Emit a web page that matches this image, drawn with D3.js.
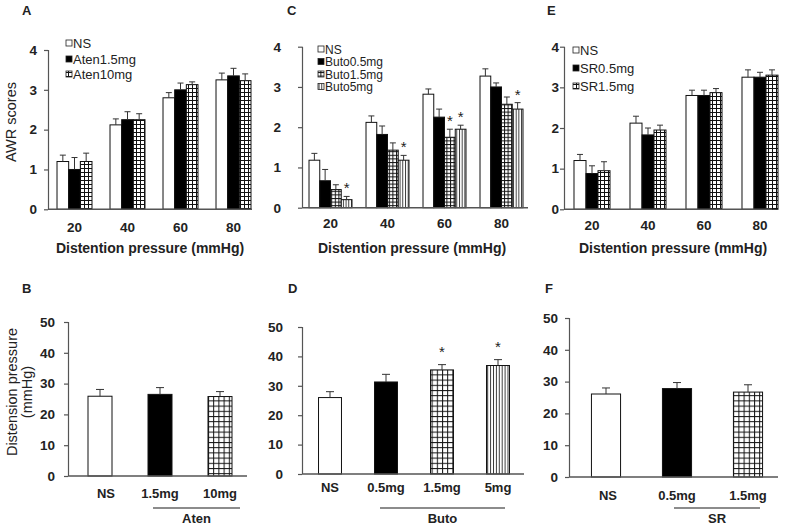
<!DOCTYPE html>
<html>
<head>
<meta charset="utf-8">
<script src="https://cdn.jsdelivr.net/npm/d3@7"></script>
<style>
  html, body { margin: 0; padding: 0; background: #fff; }
  svg { display: block; font-family: "Liberation Sans", Arial, sans-serif; }
</style>
</head>
<body>
<svg id="chart" width="787" height="528"></svg>
<script>
// ---------- DATA ----------
const pressureCats = ["20", "40", "60", "80"];
const awrTicks = [0, 1, 2, 3, 4];
const pressTicks = [0, 10, 20, 30, 40, 50];

// Panel A
const aSeries = ["NS", "Aten1.5mg", "Aten10mg"];
const aNS = [1.2, 2.12, 2.8, 3.25];
const aNSErr = [0.16, 0.15, 0.13, 0.17];
const aAten15 = [1.0, 2.25, 3.0, 3.35];
const aAten15Err = [0.3, 0.2, 0.17, 0.19];
const aAten10 = [1.2, 2.25, 3.13, 3.23];
const aAten10Err = [0.21, 0.15, 0.07, 0.17];

// Panel C
const cSeries = ["NS", "Buto0.5mg", "Buto1.5mg", "Buto5mg"];
const cNS = [1.18, 2.12, 2.82, 3.27];
const cNSErr = [0.17, 0.16, 0.13, 0.18];
const cButo05 = [0.67, 1.82, 2.25, 3.0];
const cButo05Err = [0.28, 0.21, 0.2, 0.1];
const cButo15 = [0.45, 1.43, 1.75, 2.57];
const cButo15Err = [0.12, 0.18, 0.2, 0.18];
const cButo5 = [0.2, 1.18, 1.95, 2.45];
const cButo5Err = [0.08, 0.12, 0.1, 0.16];
const cButo15Star = [false, false, true, false];
const cButo5Star = [true, true, true, true];

// Panel E
const eSeries = ["NS", "SR0.5mg", "SR1.5mg"];
const eNS = [1.2, 2.12, 2.8, 3.25];
const eNSErr = [0.15, 0.17, 0.13, 0.18];
const eSR05 = [0.88, 1.83, 2.8, 3.25];
const eSR05Err = [0.19, 0.17, 0.13, 0.12];
const eSR15 = [0.95, 1.95, 2.87, 3.3];
const eSR15Err = [0.22, 0.12, 0.1, 0.13];

// Panel B
const bCats = ["NS", "1.5mg", "10mg"];
const bVals = [25.9, 26.5, 25.8];
const bErr = [2.2, 2.2, 1.6];
// Panel D
const dCats = ["NS", "0.5mg", "1.5mg", "5mg"];
const dVals = [26.0, 31.3, 35.4, 36.9];
const dErr = [2.0, 2.6, 1.8, 2.0];
const dStar = [false, false, true, true];
// Panel F
const fCats = ["NS", "0.5mg", "1.5mg"];
const fVals = [26.1, 27.8, 26.7];
const fErr = [1.9, 1.9, 2.3];

// ---------- DRAWING ----------
const svg = d3.select("#chart");
const defs = svg.append("defs");

function gridPattern(id, w, h) {
  const p = defs.append("pattern").attr("id", id)
    .attr("patternUnits", "userSpaceOnUse").attr("width", w).attr("height", h);
  p.append("rect").attr("width", w).attr("height", h).attr("fill", "#fff");
  p.append("line").attr("x1", 0.5).attr("x2", 0.5).attr("y1", 0).attr("y2", h)
    .attr("stroke", "#111").attr("stroke-width", 1);
  p.append("line").attr("x1", 0).attr("x2", w).attr("y1", 0.5).attr("y2", 0.5)
    .attr("stroke", "#111").attr("stroke-width", 1);
}
function vlinePattern(id, w) {
  const p = defs.append("pattern").attr("id", id)
    .attr("patternUnits", "userSpaceOnUse").attr("width", w).attr("height", 4);
  p.append("rect").attr("width", w).attr("height", 4).attr("fill", "#fff");
  p.append("line").attr("x1", 0.5).attr("x2", 0.5).attr("y1", 0).attr("y2", 4)
    .attr("stroke", "#222").attr("stroke-width", 0.9);
}
gridPattern("grid4", 4, 4);
gridPattern("gridH", 3.6, 3.6);
gridPattern("grid5", 5.2, 5.2);
vlinePattern("vl3", 2.7);
vlinePattern("vl3b", 2.9);

const AXIS = "#555";

function yAxis(g, y, x0, ticks, pad) {
  const ax = g.append("g").attr("transform", `translate(${x0},0)`)
    .call(d3.axisLeft(y).tickValues(ticks).tickSize(4).tickPadding(pad).tickFormat(d3.format("d")));
  ax.select(".domain").remove();
  ax.append("line").attr("x1", 0.5).attr("x2", 0.5)
    .attr("y1", y(ticks[0])).attr("y2", y(ticks[ticks.length - 1]))
    .attr("stroke", AXIS).attr("stroke-width", 1.2);
  ax.selectAll(".tick line").attr("stroke", AXIS).attr("stroke-width", 1.2);
  ax.selectAll(".tick text").attr("font-size", 13.5).attr("font-weight", "bold")
    .attr("fill", "#222").attr("font-family", "Liberation Sans, Arial, sans-serif");
}
function xLine(g, y0, xa, xb) {
  g.append("line").attr("x1", xa).attr("x2", xb).attr("y1", y0).attr("y2", y0)
    .attr("stroke", AXIS).attr("stroke-width", 1.5);
}
function errBar(g, cx, yTop, yBase, cap) {
  g.append("line").attr("x1", cx).attr("x2", cx).attr("y1", yTop).attr("y2", yBase)
    .attr("stroke", "#333").attr("stroke-width", 1);
  g.append("line").attr("x1", cx - cap / 2).attr("x2", cx + cap / 2).attr("y1", yTop).attr("y2", yTop)
    .attr("stroke", "#333").attr("stroke-width", 1);
}
function text(g, x, y, s, opts) {
  const t = g.append("text").attr("x", x).attr("y", y).text(s)
    .attr("font-size", opts.size || 13).attr("fill", opts.fill || "#222")
    .attr("text-anchor", opts.anchor || "start")
    .attr("font-weight", opts.weight || "normal");
  if (opts.rotate) t.attr("transform", `rotate(-90,${x},${y})`);
  return t;
}

// grouped (top) panel
function grouped(cfg) {
  const g = svg.append("g");
  const x = d3.scaleBand().domain(pressureCats).range(cfg.xr)
    .paddingInner(cfg.pad).paddingOuter(cfg.pad / 2);
  const xs = d3.scaleBand().domain(cfg.series).range([0, x.bandwidth()]);
  const y = d3.scaleLinear().domain([0, 4]).range(cfg.yr);
  const yBase = y(0);
  cfg.series.forEach((s, si) => {
    const vals = cfg.values[si], errs = cfg.errors[si], stars = cfg.stars ? cfg.stars[si] : null;
    pressureCats.forEach((c, ci) => {
      const bx = x(c) + xs(s);
      const yt = y(vals[ci]);
      g.append("rect").attr("x", bx).attr("y", yt).attr("width", xs.bandwidth())
        .attr("height", yBase - yt).attr("fill", cfg.fills[si])
        .attr("stroke", "#111").attr("stroke-width", 1);
      const ye = y(vals[ci] + errs[ci]);
      errBar(g, bx + xs.bandwidth() / 2, ye, yt, 6);
      if (stars && stars[ci]) {
        text(g, bx + xs.bandwidth() / 2, ye - 3, "*", { size: 15, anchor: "middle" });
      }
    });
  });
  yAxis(g, y, cfg.xr[0], awrTicks, cfg.tickPad);
  xLine(g, yBase, cfg.xr[0], cfg.axisEnd);
  pressureCats.forEach(c => {
    text(g, x(c) + x.bandwidth() / 2, cfg.labelY, c, { size: 13.5, weight: "bold", anchor: "middle" });
  });
  text(g, cfg.titleX, 253, "Distention pressure (mmHg)", { size: 14, weight: "bold", anchor: "middle" });
  text(g, cfg.letter[0], 15, cfg.letter[2], { size: 13, weight: "bold" });
  // legend
  cfg.series.forEach((s, si) => {
    const ly = cfg.legY[si];
    g.append("rect").attr("x", cfg.legX).attr("y", ly - 3).attr("width", 6).attr("height", 6)
      .attr("fill", cfg.legFills[si]).attr("stroke", "#222").attr("stroke-width", 0.8);
    text(g, cfg.legX + 7, ly + 4.5, s, { size: cfg.legSize || 13 });
  });
  return g;
}

// simple (bottom) panel
function simple(cfg) {
  const g = svg.append("g");
  const x = d3.scaleBand().domain(cfg.cats).range(cfg.xr)
    .paddingInner(cfg.pad).paddingOuter(cfg.pad / 2);
  const y = d3.scaleLinear().domain([0, 50]).range(cfg.yr);
  const yBase = y(0);
  cfg.cats.forEach((c, i) => {
    const yt = y(cfg.vals[i]);
    g.append("rect").attr("x", x(c)).attr("y", yt).attr("width", x.bandwidth())
      .attr("height", yBase - yt).attr("fill", cfg.fills[i])
      .attr("stroke", "#111").attr("stroke-width", 1);
    const ye = y(cfg.vals[i] + cfg.errs[i]);
    errBar(g, x(c) + x.bandwidth() / 2, ye, yt, 8);
    if (cfg.stars && cfg.stars[i]) {
      text(g, x(c) + x.bandwidth() / 2, ye - 8, "*", { size: 15, anchor: "middle" });
    }
    text(g, x(c) + x.bandwidth() / 2 + (i === 0 ? cfg.nsShift : 0), cfg.labelY, c, { size: 13, weight: "bold", anchor: "middle" });
  });
  yAxis(g, y, cfg.xr0, pressTicks, cfg.tickPad);
  xLine(g, yBase, cfg.xr0, cfg.axisEnd);
  g.append("line").attr("x1", cfg.under[0]).attr("x2", cfg.under[1])
    .attr("y1", 508).attr("y2", 508).attr("stroke", "#666").attr("stroke-width", 1.5);
  text(g, (cfg.under[0] + cfg.under[1]) / 2, 523, cfg.group, { size: 13, weight: "bold", anchor: "middle" });
  text(g, cfg.letter[0], 293, cfg.letter[2], { size: 13, weight: "bold" });
  return g;
}

const WHITE = "#fff", BLACK = "#000";

grouped({
  xr: [48, 260], pad: 0.34, yr: [209.3, 50], axisEnd: 252, tickPad: 7, labelY: 232,
  series: aSeries, values: [aNS, aAten15, aAten10], errors: [aNSErr, aAten15Err, aAten10Err],
  fills: [WHITE, BLACK, "url(#grid4)"], legFills: [WHITE, BLACK, "url(#grid4)"],
  legX: 66, legY: [43, 59, 74], titleX: 150, letter: [22, 15, "A"]
});
text(svg, 16, 122, "AWR scores", { size: 14.5, anchor: "middle", rotate: true });

grouped({
  xr: [302, 530], pad: 0.246, yr: [207.7, 46.7], axisEnd: 528, tickPad: 17, labelY: 228,
  series: cSeries, values: [cNS, cButo05, cButo15, cButo5], errors: [cNSErr, cButo05Err, cButo15Err, cButo5Err],
  stars: [null, null, cButo15Star, cButo5Star],
  fills: [WHITE, BLACK, "url(#gridH)", "url(#vl3)"], legFills: [WHITE, BLACK, "url(#gridH)", "url(#vl3)"],
  legX: 318, legY: [49, 61.5, 74, 86.5], legSize: 12, titleX: 412, letter: [287, 15, "C"]
});

grouped({
  xr: [564, 788], pad: 0.357, yr: [209.3, 46.7], axisEnd: 772, tickPad: 1, labelY: 230,
  series: eSeries, values: [eNS, eSR05, eSR15], errors: [eNSErr, eSR05Err, eSR15Err],
  fills: [WHITE, BLACK, "url(#grid4)"], legFills: [WHITE, BLACK, "url(#grid4)"],
  legX: 573, legY: [50, 68, 86], titleX: 673, letter: [547, 15, "E"]
});

simple({
  cats: bCats, vals: bVals, errs: bErr, fills: [WHITE, BLACK, "url(#grid5)"],
  xr: [70, 250], xr0: 68, pad: 0.6, yr: [476, 322], axisEnd: 247, tickPad: 9,
  labelY: 498, nsShift: 6, under: [153, 240], group: "Aten", letter: [22, 293, "B"]
});
text(svg, 17, 392, "Distension pressure", { size: 14.5, anchor: "middle", rotate: true });
text(svg, 32, 392, "(mmHg)", { size: 14.5, anchor: "middle", rotate: true });

simple({
  cats: dCats, vals: dVals, errs: dErr, stars: dStar, fills: [WHITE, BLACK, "url(#grid5)", "url(#vl3b)"],
  xr: [302, 526], xr0: 302, pad: 0.59, yr: [474, 327], axisEnd: 524, tickPad: 15,
  labelY: 492, nsShift: 0, under: [380, 505], group: "Buto", letter: [288, 293, "D"]
});

simple({
  cats: fCats, vals: fVals, errs: fErr, fills: [WHITE, BLACK, "url(#grid5)"],
  xr: [570.5, 783.5], xr0: 569, pad: 0.59, yr: [477, 318], axisEnd: 778, tickPad: 7,
  labelY: 500, nsShift: 2, under: [674, 760], group: "SR", letter: [545, 293, "F"]
});
</script>
</body>
</html>
